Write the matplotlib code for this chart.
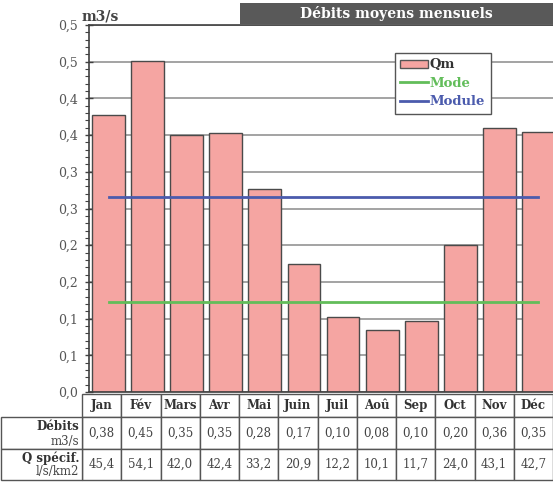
import matplotlib
matplotlib.use("Agg")
import matplotlib.pyplot as plt
from matplotlib.patches import Rectangle
from matplotlib.lines import Line2D
import numpy as np

plt.rcParams['font.family'] = ['DejaVu Serif']

# Monthly data
months = ['Jan', 'Fév', 'Mars', 'Avr', 'Mai', 'Juin', 'Juil', 'Aoû', 'Sep', 'Oct', 'Nov', 'Déc']
debits = [0.378, 0.451, 0.350, 0.353, 0.277, 0.174, 0.102, 0.084, 0.097, 0.200, 0.359, 0.354]
q_specif = ['45,4', '54,1', '42,0', '42,4', '33,2', '20,9', '12,2', '10,1', '11,7', '24,0', '43,1', '42,7']
module_value = 0.265
mode_value = 0.122
y_ticks = [0.0, 0.05, 0.10, 0.15, 0.20, 0.25, 0.30, 0.35, 0.40, 0.45, 0.50]
y_tick_labels = ['0,0', '0,1', '0,1', '0,2', '0,2', '0,3', '0,3', '0,4', '0,4', '0,5', '0,5']

W, H = 553, 482
BAR = '#F5A5A2'
GREEN = '#62BD5A'
BLUE = '#4B5BAD'
EDGE = '#4a4a4a'
GRID = '#8a8a8a'

fig = plt.figure(figsize=(W / 100, H / 100), dpi=100)
fig.patch.set_facecolor('white')

ax = fig.add_axes([89 / W, 1 - 392 / H, (558 - 89) / W, (392 - 25) / H])
x = np.arange(len(months))
ax.bar(x, debits, width=0.84, color=BAR, edgecolor=EDGE, linewidth=1.0, zorder=2, label='Qm')
ax.plot([x[0], x[-1]], [mode_value, mode_value], color=GREEN, lw=2.0, zorder=3, label='Mode')
ax.plot([x[0], x[-1]], [module_value, module_value], color=BLUE, lw=2.0, zorder=3, label='Module')

ax.set_xlim(-0.5, len(months) - 0.5)
ax.set_ylim(0, 0.5)
ax.set_xticks([])
ax.set_yticks(y_ticks)
ax.set_yticklabels(y_tick_labels)
ax.set_yticks(np.arange(0, 0.501, 0.01), minor=True)
ax.tick_params(axis='y', which='major', direction='inout', length=6, width=1.0,
               color='#404040', labelsize=9, labelcolor='#555555', pad=5)
ax.tick_params(axis='y', which='minor', direction='out', length=3, width=0.8, color='#404040')
ax.yaxis.grid(True, which='major', color=GRID, lw=1.1, zorder=0)
ax.set_axisbelow(True)
for side in ('left', 'bottom', 'top'):
    ax.spines[side].set_color('#404040')
    ax.spines[side].set_linewidth(1.2)
ax.spines['right'].set_visible(False)

handles = [Rectangle((0, 0), 1, 1, facecolor=BAR, edgecolor='#555555', lw=1.0),
           Line2D([], [], color=GREEN, lw=2.0),
           Line2D([], [], color=BLUE, lw=2.0)]
leg = ax.legend(handles, ['Qm', 'Mode', 'Module'], loc='upper left',
                bbox_to_anchor=(395 / W, 1 - 53 / H), bbox_transform=fig.transFigure,
                borderaxespad=0, fancybox=False, framealpha=1, edgecolor='#555555',
                prop={'weight': 'bold', 'size': 9.5}, handlelength=2.1, handleheight=0.55,
                handletextpad=0.15, labelspacing=0.42, borderpad=0.4)
leg.get_frame().set_linewidth(1.0)
for txt, col in zip(leg.get_texts(), ['#333333', GREEN, BLUE]):
    txt.set_color(col)

# Overlay in pixel space for title banner, unit label and the data table
ov = fig.add_axes([0, 0, 1, 1], zorder=5)
ov.set_xlim(0, W)
ov.set_ylim(H, 0)
ov.axis('off')
ov.patch.set_alpha(0)

ov.add_patch(Rectangle((240, 3), W - 240, 21, facecolor='#595959', edgecolor='none'))
ov.text((240 + W) / 2, 13.5, 'Débits moyens mensuels', color='white', fontsize=10,
        fontweight='bold', ha='center', va='center')
ov.text(82, 17, 'm3/s', color='#444444', fontsize=10, fontweight='bold', ha='left', va='center')

x0 = 82
cw = (W - x0) / len(months)
row_y = [394, 417, 449, 480]
TEDGE = '#555555'
for i, m in enumerate(months):
    cx = x0 + cw * i
    for r in range(3):
        ov.add_patch(Rectangle((cx, row_y[r]), cw, row_y[r + 1] - row_y[r],
                               facecolor='white', edgecolor=TEDGE, lw=1.0))
    ov.text(cx + cw / 2, (row_y[0] + row_y[1]) / 2, m, fontsize=8.5, fontweight='bold',
            color='#333333', ha='center', va='center')
    ov.text(cx + cw / 2, (row_y[1] + row_y[2]) / 2, f'{debits[i]:.2f}'.replace('.', ','),
            fontsize=8.5, color='#444444', ha='center', va='center')
    ov.text(cx + cw / 2, (row_y[2] + row_y[3]) / 2, q_specif[i],
            fontsize=8.5, color='#444444', ha='center', va='center')

for r in (1, 2):
    ov.add_patch(Rectangle((1, row_y[r]), x0 - 1, row_y[r + 1] - row_y[r],
                           facecolor='white', edgecolor=TEDGE, lw=1.0))
ov.text(79, 426, 'Débits', fontsize=8.5, fontweight='bold', color='#333333', ha='right', va='center')
ov.text(79, 441, 'm3/s', fontsize=8.5, color='#444444', ha='right', va='center')
ov.text(79, 458, 'Q spécif.', fontsize=8.5, fontweight='bold', color='#333333', ha='right', va='center')
ov.text(79, 472, 'l/s/km2', fontsize=8.5, color='#444444', ha='right', va='center')

fig.savefig('out.png', dpi=100, facecolor='white')
